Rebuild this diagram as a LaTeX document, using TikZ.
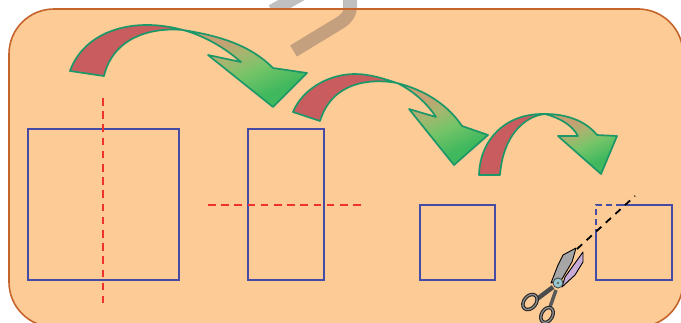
\documentclass[tikz,border=0pt]{standalone}
\usepackage{color}
\usetikzlibrary{positioning}
\definecolor{panelfill}{RGB}{253,203,150}
\definecolor{paneledge}{RGB}{197,101,43}
\definecolor{squareblue}{RGB}{70,75,165}
\definecolor{cutred}{RGB}{238,50,45}
\definecolor{tailred}{RGB}{201,92,94}
\definecolor{arrowedge}{RGB}{28,152,104}
\definecolor{headtop}{RGB}{198,160,114}
\definecolor{headup}{RGB}{165,182,111}
\definecolor{headmid}{RGB}{118,196,104}
\definecolor{headend}{RGB}{64,184,94}
\definecolor{markgrey}{RGB}{192,192,192}
\definecolor{markbrown}{RGB}{196,160,126}
\definecolor{lilac}{RGB}{200,172,216}
\definecolor{bolt}{RGB}{150,200,208}
\pgfdeclareverticalshading{headshade}{100bp}{color(0bp)=(headend); color(32bp)=(headend); color(47bp)=(headmid); color(58bp)=(headup); color(68bp)=(headtop); color(100bp)=(headtop)}

\begin{document}
\begin{tikzpicture}
    [x=1pt, y=-1pt,
    square/.style={draw=squareblue, line width=1.6pt, inner sep=0pt, outer sep=0pt},
    fold/.style={cutred, line width=1.4pt, dash pattern=on 7.5pt off 5.7pt},
    tailpart/.style={fill=tailred},
    headpart/.style={shading=headshade, shading angle=25},
    arrowline/.style={draw=arrowedge, line width=1.7pt, line join=round},
    blade/.style={draw=black, line width=0.9pt, line join=round},
    handle/.style={draw=black!85, line width=1.1pt, double=black!45, double distance=1.3pt}]
        \clip (0,0) rectangle (681,322);
        % Panel and watermark
        \draw[markgrey, line width=13pt] (272,11) -- (302,-6);
        \draw[markgrey, line width=13pt] (349,10) -- (349,-4);
        \draw[paneledge, fill=panelfill, line width=1.6pt, rounded corners=45pt] (9,9) rectangle (683,327);
        \draw[markbrown, line width=13pt] (293.5,51) -- (338,24) .. controls (349,18) and (353,10) .. (349,-4);
        \begin{scope}
            \clip (0,0) rectangle (681,8);
            \draw[markgrey, line width=13pt] (338,24) .. controls (349,18) and (353,10) .. (349,-4);
        \end{scope}
        \draw[paneledge, line width=1.6pt] (55,9) -- (640,9);

        % Squares
        \node[square, minimum width=151pt, minimum height=151pt] (S1) at (103.5,204.5) {};
        \node[square, minimum width=76pt, minimum height=151pt] (S2) at (286,204.5) {};
        \node[square, minimum width=75pt, minimum height=75pt] (S3) at (457.5,242.5) {};
        \coordinate (S4a) at (622,205);
        \coordinate (S4b) at (672,205);
        \coordinate (S4c) at (672,280);
        \coordinate (S4d) at (596,280);
        \coordinate (S4e) at (596,235);
        \coordinate (S4f) at (596,205);
        \draw[draw=squareblue, line width=1.6pt] (S4a) -- (S4b) -- (S4c) -- (S4d) -- (S4e);
        \draw[draw=squareblue, line width=1.6pt, dash pattern=on 6pt off 4pt] (S4e) -- (S4f) -- (S4a);

        % Fold lines
        \coordinate (F1a) at (103,98);
        \coordinate (F1b) at (103,303);
        \coordinate (F2a) at (208,205);
        \coordinate (F2b) at (361,205);
        \draw[fold] (F1a) -- (F1b);
        \draw[fold] (F2a) -- (F2b);
        \coordinate (C1) at (577,249);
        \coordinate (C2) at (635,196);
        \draw[black, line width=1.8pt, dash pattern=on 7pt off 6pt] (C1) -- (C2);

        % Arrow 1
        \fill[tailpart] (70,71) .. controls (82,38) and (115,25) .. (147,25) .. controls (160,25) and (172,27) .. (183,30)
            .. controls (150,27) and (113,38) .. (104,76) -- cycle;
        \shade[headpart] (183,30) .. controls (220,36) and (250,45) .. (273,68) -- (307,73) -- (273,107) -- (208,55) -- (241,62)
            .. controls (225,48) and (205,36) .. (183,30) -- cycle;
        \draw[arrowline] (70,71) .. controls (82,38) and (115,25) .. (147,25) .. controls (160,25) and (172,27) .. (183,30)
            .. controls (220,36) and (250,45) .. (273,68) -- (307,73) -- (273,107) -- (208,55) -- (241,62)
            .. controls (225,48) and (205,36) .. (183,30) .. controls (150,27) and (113,38) .. (104,76) -- cycle;

        % Arrow 2
        \fill[tailpart] (293,112) .. controls (303,88) and (330,74) .. (355,74) .. controls (370,74) and (385,79) .. (397,83)
            .. controls (370,78) and (332,82) .. (320,121) -- cycle;
        \shade[headpart] (397,83) .. controls (425,90) and (448,105) .. (462,126) -- (488,135) -- (454,165) -- (409,109) -- (436,117)
            .. controls (427,103) and (412,90) .. (397,83) -- cycle;
        \draw[arrowline] (293,112) .. controls (303,88) and (330,74) .. (355,74) .. controls (370,74) and (385,79) .. (397,83)
            .. controls (425,90) and (448,105) .. (462,126) -- (488,135) -- (454,165) -- (409,109) -- (436,117)
            .. controls (427,103) and (412,90) .. (397,83) .. controls (370,78) and (332,82) .. (320,121) -- cycle;

        % Arrow 3
        \fill[tailpart] (479,175) .. controls (480,140) and (505,113) .. (545,114)
            .. controls (525,116) and (503,135) .. (500,175) -- cycle;
        \shade[headpart] (545,114) .. controls (565,114) and (585,120) .. (597,135) -- (617,136) -- (601,174) -- (558,136) -- (578,136)
            .. controls (572,125) and (560,118) .. (545,114) -- cycle;
        \draw[arrowline] (479,175) .. controls (480,140) and (505,113) .. (545,114)
            .. controls (565,114) and (585,120) .. (597,135) -- (617,136) -- (601,174) -- (558,136) -- (578,136)
            .. controls (572,125) and (560,118) .. (545,114) .. controls (525,116) and (503,135) .. (500,175) -- cycle;

        % Scissors
        \draw[black!70, line width=4.5pt] (553,287) -- (537,299);
        \draw[black!65, line width=3.5pt] (556,290) -- (550,307);
        \draw[handle] (530,302) ellipse [x radius=8.5, y radius=6, rotate=50];
        \draw[handle] (547,315) ellipse [x radius=8, y radius=5.5, rotate=60];
        \draw[blade, fill=black!35] (551,283) -- (558,265) -- (563,255) -- (576,248) -- (572,262) -- (562,279) -- cycle;
        \draw[blade, fill=lilac] (583,252) -- (583,262) -- (575,275) -- (562,287) -- (565,277) -- cycle;
        \node[circle, draw=black!70, fill=bolt, line width=0.9pt, minimum size=10pt, inner sep=0pt] (pivot) at (558,283) {};
        \fill[black!60] (pivot) circle (1.3);
    \end{tikzpicture}
\end{document}
